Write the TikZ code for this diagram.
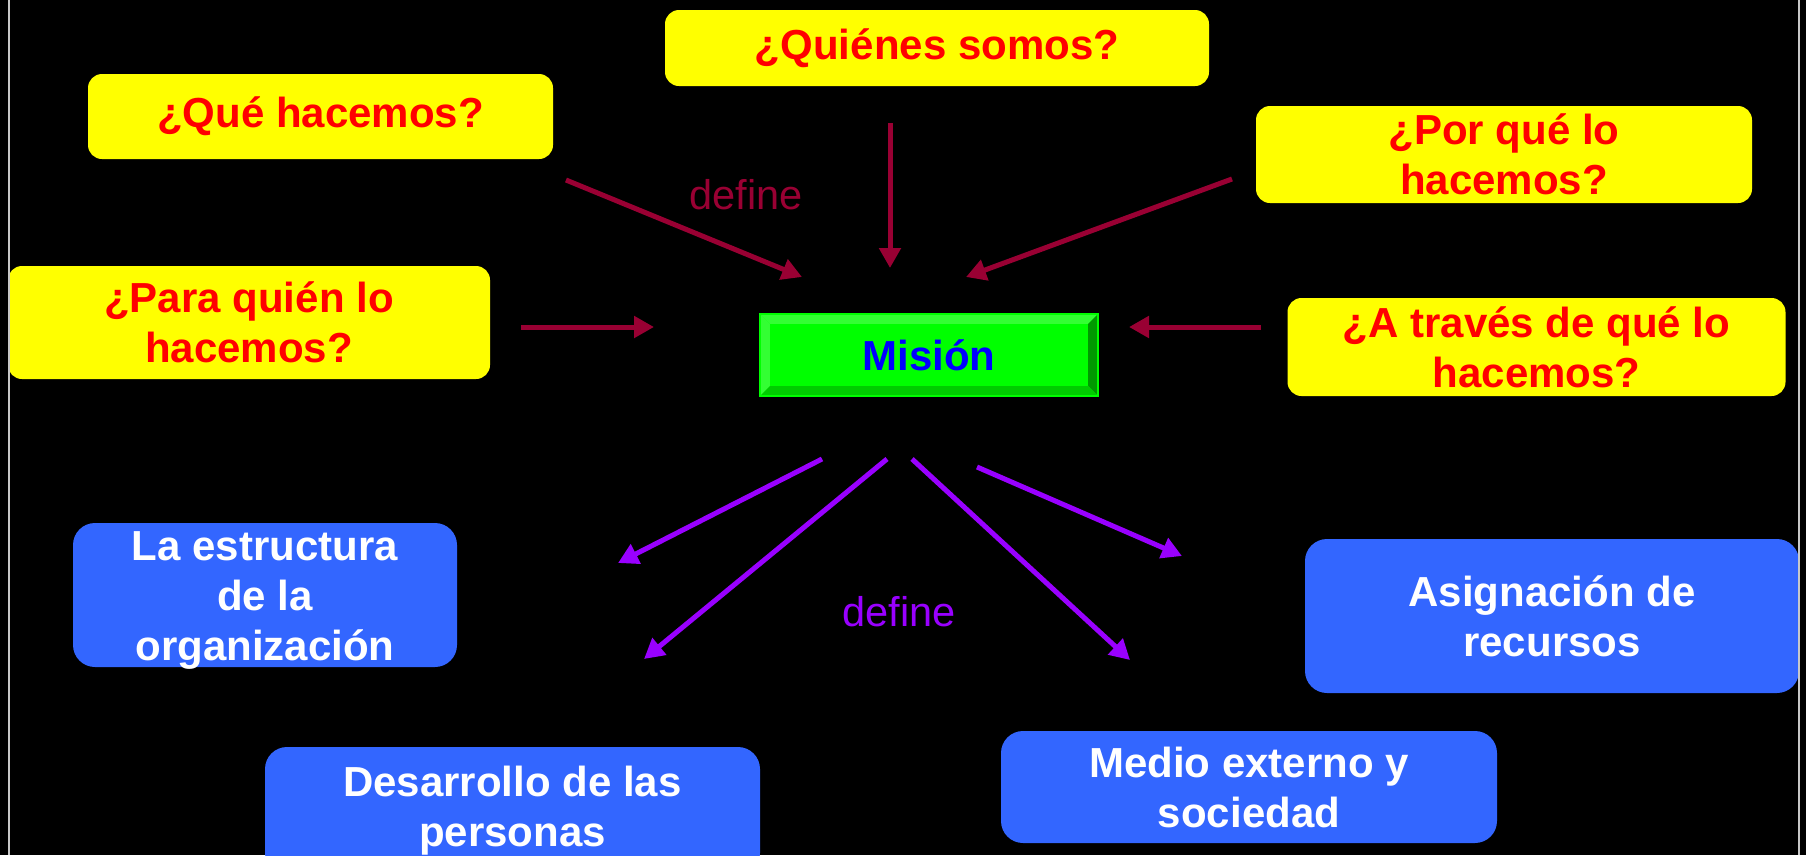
\documentclass[tikz,border=0pt]{standalone}
\usepackage{fontspec}
\setmainfont{Liberation Sans}
\usetikzlibrary{arrows.meta,calc}
\definecolor{ybox}{HTML}{FFFF00}
\definecolor{qred}{HTML}{FF0000}
\definecolor{bbox}{HTML}{3366FF}
\definecolor{darrow}{HTML}{990033}
\definecolor{parrow}{HTML}{9900FF}
\definecolor{gface}{HTML}{00FF00}
\definecolor{glight}{HTML}{33FF33}
\definecolor{gdark}{HTML}{009900}
\definecolor{gmid}{HTML}{00CC00}
\definecolor{mblue}{HTML}{0000FF}
\definecolor{vline}{HTML}{C8C8C8}
\begin{document}
\begin{tikzpicture}[x=1pt,y=-1pt,
  bigfont/.style={font=\fontsize{42}{50}\selectfont\bfseries},
  qbox/.style={bigfont, fill=ybox, rounded corners=14pt, text=qred, align=center, inner sep=0pt},
  tbox/.style={bigfont, fill=bbox, rounded corners=22pt, text=white, align=center, inner sep=0pt},
  wtxt/.style={bigfont, text=white, align=center, inner sep=0pt},
  redarr/.style={draw=darrow, line width=5pt, -{Triangle[length=20pt,width=21pt]}},
  purarr/.style={draw=parrow, line width=5pt, -{Triangle[length=20pt,width=21pt]}},
  deflbl/.style={font=\fontsize{41.5}{50}\selectfont, inner sep=0pt}
]
\fill[black] (0,0) rectangle (1806,855);
\useasboundingbox (0,0) rectangle (1806,855);

% question boxes
\node (quienes) [qbox, minimum width=544pt, minimum height=76pt] at (937,48) {¿Quiénes somos?};
\node (que) [qbox, minimum width=465pt, minimum height=85pt] at (320.5,116.5) {¿Qué hacemos?};
\node (porque) [qbox, minimum width=496pt, minimum height=97pt] at (1504,154.5) {¿Por qué lo\\hacemos?};
\node (para) [qbox, minimum width=482pt, minimum height=113pt] at (249,322.5) {¿Para quién lo\\hacemos?};
\node (atraves) [qbox, minimum width=498pt, minimum height=98pt] at (1536.5,347) {¿A través de qué lo\\hacemos?};

% mission box with bevel
\node (mision) [bigfont, fill=gface, text=mblue, inner sep=0pt, minimum width=338pt, minimum height=82pt] at (929,355) {Misión};
\fill[glight] (mision.north west) -- (mision.north east) -- ($(mision.north east)+(-10,10)$) -- ($(mision.north west)+(10,10)$) -- cycle;
\fill[glight] (mision.north west) -- ($(mision.north west)+(10,10)$) -- ($(mision.south west)+(10,-10)$) -- (mision.south west) -- cycle;
\fill[gdark] (mision.north east) -- (mision.south east) -- ($(mision.south east)+(-10,-10)$) -- ($(mision.north east)+(-10,10)$) -- cycle;
\fill[gmid] (mision.south west) -- (mision.south east) -- ($(mision.south east)+(-10,-10)$) -- ($(mision.south west)+(10,-10)$) -- cycle;
\draw[gface, line width=2pt] (mision.north west) rectangle (mision.south east);

% result boxes
\node (estructura) [tbox, minimum width=384pt, minimum height=144pt] at (265,595) {};
\node (estructuratxt) [wtxt] at (265,600) {La estructura\\de la\\organización};
\node (desarrollo) [tbox, minimum width=495pt, minimum height=128pt] at (512.5,811) {Desarrollo de las\\personas};
\node (medio) [tbox, minimum width=496pt, minimum height=112pt] at (1249,787) {Medio externo y\\sociedad};
\node (asignacion) [tbox, minimum width=494pt, minimum height=154pt] at (1552,616) {Asignación de\\recursos};

% labels
\node (def1) [deflbl, text=darrow] at (746,195) {define};
\node (def2) [deflbl, text=parrow] at (899,612) {define};

% red arrows
\coordinate (a1s) at (566,180); \coordinate (a1e) at (802,277);
\coordinate (a2s) at (890,123); \coordinate (a2e) at (890,268);
\coordinate (a3s) at (1232,179); \coordinate (a3e) at (966,277);
\coordinate (a4s) at (521,327); \coordinate (a4e) at (654,327);
\coordinate (a5s) at (1261,327); \coordinate (a5e) at (1129,327);
\draw[redarr] (a1s) -- (a1e);
\draw[redarr] (a2s) -- (a2e);
\draw[redarr] (a3s) -- (a3e);
\draw[redarr] (a4s) -- (a4e);
\draw[redarr] (a5s) -- (a5e);

% purple arrows
\coordinate (p1s) at (822,459); \coordinate (p1e) at (618,563);
\coordinate (p2s) at (887,459); \coordinate (p2e) at (644,659);
\coordinate (p3s) at (912,459); \coordinate (p3e) at (1130,660);
\coordinate (p4s) at (977,467); \coordinate (p4e) at (1182,556);
\draw[purarr] (p1s) -- (p1e);
\draw[purarr] (p2s) -- (p2e);
\draw[purarr] (p3s) -- (p3e);
\draw[purarr] (p4s) -- (p4e);

% side rules
\coordinate (lt) at (9,0); \coordinate (lb) at (9,855);
\coordinate (rt) at (1799,0); \coordinate (rb) at (1799,855);
\draw[vline, line width=2pt] (lt) -- (lb);
\draw[vline, line width=2pt] (rt) -- (rb);
\end{tikzpicture}
\end{document}
